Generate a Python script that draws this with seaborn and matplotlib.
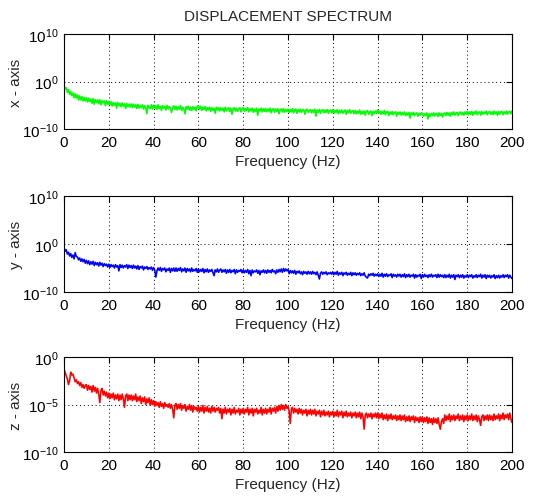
import numpy as np
import pandas as pd
import matplotlib
matplotlib.use("Agg")
import matplotlib.pyplot as plt
from matplotlib.ticker import NullLocator, FixedLocator, FixedFormatter
import seaborn as sns

# ---------------- data: log10 of displacement amplitude, 0.5 Hz steps (0 .. 200 Hz) ----------------
freq_hz = np.arange(0, 401) * 0.5

x_log = [
    -0.8, -1.6, -1.3, -2.3, -1.7, -2.7, -2.1, -3.0, -2.4, -3.4, -2.6, -3.5, -2.8, -3.9, -3.0, -3.9, -3.2, -4.1, -3.4, -4.1,
    -3.4, -4.3, -3.5, -4.2, -3.7, -4.6, -3.6, -4.8, -3.8, -4.4, -3.9, -4.7, -3.8, -4.9, -4.0, -4.5, -4.1, -5.1, -4.0, -4.8,
    -4.2, -4.9, -4.3, -5.2, -4.4, -5.0, -4.5, -5.6, -4.4, -5.1, -4.6, -5.3, -4.5, -5.2, -4.7, -5.7, -4.6, -5.3, -4.8, -5.4,
    -4.7, -5.5, -4.8, -5.4, -4.9, -5.7, -4.8, -5.6, -5.0, -5.5, -4.9, -5.8, -5.1, -5.6, -6.8, -5.0, -5.5, -5.7, -4.9, -5.8,
    -5.0, -5.6, -5.1, -5.9, -4.9, -5.7, -5.2, -6.1, -5.1, -5.6, -5.2, -6.0, -5.0, -5.8, -5.3, -5.5, -6.5, -5.6, -5.1, -5.9,
    -5.2, -6.0, -5.3, -5.8, -5.1, -6.1, -5.4, -5.9, -6.8, -5.3, -5.8, -5.2, -6.0, -5.4, -6.1, -5.3, -5.9, -5.4, -6.2, -5.2,
    -5.1, -5.8, -5.2, -6.1, -5.4, -5.9, -5.3, -6.2, -5.5, -6.0, -5.4, -6.3, -5.5, -6.1, -5.6, -6.7, -5.4, -6.0, -5.5, -6.2,
    -5.5, -6.1, -5.6, -6.4, -5.4, -6.2, -5.7, -5.5, -6.3, -5.6, -6.9, -5.7, -5.5, -6.2, -5.6, -6.3, -5.8, -5.5, -6.4, -5.7,
    -5.5, -6.3, -5.7, -6.1, -5.5, -6.4, -5.7, -6.2, -5.6, -6.5, -5.8, -6.3, -5.6, -7.1, -5.8, -6.2, -5.6, -6.4, -5.7, -6.3,
    -5.7, -6.4, -5.8, -6.3, -5.6, -6.6, -5.9, -5.7, -6.5, -5.8, -6.3, -5.7, -6.8, -5.9, -5.8, -6.4, -5.7, -6.5, -5.9, -6.3,
    -5.8, -6.5, -5.9, -6.4, -5.7, -6.6, -6.0, -5.8, -6.7, -5.9, -6.4, -5.8, -6.5, -6.0, -5.9, -6.9, -6.0, -5.8, -6.5, -6.1,
    -5.9, -6.6, -6.0, -6.5, -5.8, -7.3, -6.0, -6.5, -5.9, -6.7, -6.1, -5.9, -6.6, -6.0, -6.5, -5.9, -6.7, -6.1, -6.0, -6.6,
    -5.9, -6.7, -6.1, -6.5, -5.9, -6.8, -6.1, -6.6, -6.0, -6.7, -6.2, -6.0, -6.9, -6.1, -6.6, -5.9, -6.7, -6.2, -6.1, -6.8,
    -6.1, -6.8, -6.2, -6.7, -6.0, -6.9, -6.3, -6.8, -6.2, -7.1, -6.3, -6.1, -6.9, -6.4, -6.2, -7.2, -6.3, -6.8, -6.2, -6.7,
    -6.0, -6.7, -6.2, -6.9, -6.3, -6.8, -6.1, -7.0, -6.4, -6.3, -7.2, -6.4, -6.9, -6.3, -7.0, -6.5, -6.4, -7.3, -6.5, -6.9,
    -6.4, -7.1, -6.5, -7.0, -6.4, -7.2, -6.6, -7.1, -6.5, -7.7, -6.6, -7.0, -6.5, -7.2, -6.7, -6.6, -7.3, -6.7, -7.1, -6.6,
    -6.7, -7.3, -6.8, -7.2, -6.6, -7.9, -6.8, -7.4, -6.7, -7.2, -6.6, -7.3, -6.8, -6.7, -7.4, -6.6, -7.2, -6.7, -7.5, -6.8,
    -6.6, -7.2, -6.5, -7.1, -6.6, -7.3, -6.5, -7.0, -6.4, -7.1, -6.6, -6.5, -7.2, -6.6, -6.4, -7.0, -6.5, -7.1, -6.4, -6.9,
    -6.3, -7.0, -6.4, -6.9, -6.3, -7.1, -6.4, -6.8, -6.2, -7.0, -6.5, -6.4, -7.1, -6.3, -6.9, -6.4, -6.8, -6.2, -7.0, -6.5,
    -6.3, -6.9, -6.4, -7.0, -6.2, -6.8, -6.4, -7.1, -6.3, -6.9, -6.4, -6.3, -7.0, -6.4, -6.8, -6.2, -6.9, -6.4, -6.3, -6.8,
    -6.2,
]

y_log = [
    -0.7, -1.5, -1.2, -2.1, -1.7, -2.5, -2.0, -2.8, -2.3, -3.1, -1.8, -2.6, -2.7, -3.3, -2.9, -3.6, -3.1, -3.7, -3.2, -4.0,
    -3.4, -4.1, -3.5, -4.3, -3.7, -4.2, -3.6, -4.5, -3.8, -4.3, -3.9, -4.6, -3.8, -4.4, -4.0, -4.7, -4.1, -4.5, -4.2, -4.8,
    -4.2, -4.9, -4.3, -4.7, -4.4, -5.0, -4.3, -4.8, -4.5, -5.6, -4.3, -4.9, -4.4, -5.0, -4.5, -4.8, -4.3, -5.1, -4.4, -4.9,
    -4.5, -5.1, -4.4, -5.0, -4.6, -5.2, -4.5, -5.3, -4.7, -5.0, -4.6, -5.4, -4.8, -5.1, -4.7, -5.3, -4.9, -5.2, -4.8, -5.5,
    -4.9, -5.4, -6.9, -5.6, -5.0, -5.5, -4.9, -5.7, -5.1, -5.4, -5.0, -5.8, -5.2, -5.5, -5.0, -5.9, -5.1, -5.6, -5.0, -5.7,
    -5.0, -5.7, -5.1, -5.5, -4.9, -5.8, -5.2, -5.6, -5.0, -5.9, -5.1, -5.6, -5.2, -5.8, -5.0, -5.7, -5.3, -5.6, -5.1, -5.9,
    -5.2, -5.8, -5.3, -5.7, -5.1, -6.0, -5.3, -5.8, -5.2, -5.9, -5.4, -5.7, -5.3, -6.0, -6.6, -5.4, -5.8, -5.2, -5.9, -5.4,
    -5.2, -5.9, -5.4, -5.8, -5.3, -6.1, -5.4, -5.9, -5.3, -6.0, -5.5, -5.8, -5.3, -6.2, -5.4, -5.9, -5.5, -5.7, -5.3, -6.0,
    -5.4, -6.0, -5.5, -5.9, -5.3, -6.2, -5.5, -6.6, -5.4, -6.0, -5.6, -5.8, -5.4, -6.1, -5.5, -6.4, -5.6, -5.9, -5.4, -6.0,
    -5.5, -6.1, -5.4, -5.9, -5.5, -6.0, -5.3, -5.8, -5.6, -6.2, -5.4, -5.9, -5.3, -5.8, -5.2, -5.9, -5.1, -5.7, -5.2, -5.6,
    -5.3, -6.2, -5.5, -6.0, -5.6, -6.1, -5.5, -6.3, -5.7, -6.0, -5.6, -6.2, -5.8, -6.4, -5.7, -6.1, -5.8, -6.3, -5.7, -6.2,
    -5.8, -6.3, -5.7, -6.2, -5.9, -6.4, -5.8, -6.5, -7.3, -6.1, -5.8, -6.3, -5.9, -6.2, -5.8, -6.4, -6.0, -6.2, -5.9, -6.3,
    -5.8, -6.4, -5.9, -6.3, -5.7, -6.5, -6.0, -6.3, -5.9, -6.6, -6.0, -6.3, -5.9, -6.5, -6.1, -6.4, -5.9, -6.6, -6.0, -6.4,
    -6.0, -6.5, -6.1, -6.4, -6.0, -6.6, -6.2, -6.5, -6.0, -6.7, -6.9, -7.1, -6.3, -6.6, -6.2, -6.5, -6.1, -6.7, -6.3, -6.6,
    -6.2, -6.8, -6.3, -6.7, -6.1, -6.9, -6.3, -6.7, -6.2, -6.8, -6.4, -6.6, -6.2, -7.0, -6.3, -6.7, -6.4, -6.9, -6.3, -6.7,
    -6.3, -6.9, -6.4, -6.8, -6.2, -7.0, -6.4, -6.8, -6.3, -6.9, -6.5, -6.7, -6.3, -7.1, -6.4, -6.9, -6.5, -6.7, -6.3, -7.2,
    -6.4, -6.9, -6.3, -6.8, -6.5, -7.0, -6.4, -6.8, -6.3, -6.9, -6.5, -6.7, -6.4, -7.0, -6.3, -6.9, -6.4, -6.8, -6.5, -7.0,
    -6.4, -7.0, -6.5, -6.9, -6.3, -7.1, -6.5, -6.9, -6.4, -7.4, -6.5, -6.8, -6.4, -7.0, -6.5, -6.9, -6.4, -7.1, -6.6, -6.9,
    -6.4, -7.0, -6.5, -6.8, -6.4, -7.1, -6.6, -6.9, -6.4, -7.0, -6.5, -6.8, -6.3, -7.1, -6.5, -6.9, -6.4, -7.2, -6.5, -6.9,
    -6.5, -7.1, -6.6, -6.9, -6.4, -7.2, -6.6, -7.0, -6.5, -7.1, -6.6, -6.9, -6.4, -7.0, -6.5, -6.8, -6.4, -7.1, -6.5, -6.9,
    -7.2,
]

z_log = [
    -1.3, -1.6, -2.0, -2.3, -2.9, -2.5, -1.6, -1.9, -1.8, -2.2, -2.6, -2.4, -2.8, -2.6, -3.0, -2.7, -3.2, -2.9, -3.3, -3.0,
    -2.9, -3.5, -3.0, -3.4, -3.1, -3.7, -3.0, -3.6, -3.2, -3.8, -3.3, -3.9, -4.8, -3.5, -3.3, -4.0, -3.6, -4.1, -3.7, -4.3,
    -3.8, -4.4, -3.9, -4.3, -3.8, -4.5, -4.0, -4.4, -3.9, -4.6, -4.0, -4.5, -3.9, -4.4, -5.3, -4.1, -3.9, -4.6, -4.0, -4.5,
    -4.0, -4.6, -4.1, -4.5, -3.9, -4.7, -4.2, -4.6, -4.1, -4.9, -4.3, -4.7, -4.2, -5.0, -4.4, -4.8, -4.3, -5.1, -4.5, -5.0,
    -4.6, -5.2, -4.7, -5.1, -4.8, -5.3, -4.7, -5.2, -4.9, -5.4, -4.8, -5.2, -5.0, -5.3, -4.9, -5.4, -5.0, -5.5, -6.4, -5.1,
    -4.9, -5.5, -5.0, -5.4, -4.9, -5.6, -5.1, -5.4, -5.0, -5.7, -5.2, -5.5, -5.0, -5.6, -5.1, -5.8, -5.2, -5.5, -5.3, -5.7,
    -5.2, -5.8, -5.3, -5.7, -5.1, -5.9, -5.3, -5.7, -5.2, -5.8, -5.4, -5.9, -5.2, -5.7, -5.3, -5.8, -5.4, -5.6, -5.3, -5.9,
    -5.4, -6.5, -5.5, -5.9, -5.3, -6.0, -5.5, -5.8, -5.4, -6.1, -5.5, -5.9, -5.3, -6.0, -5.6, -5.8, -5.4, -6.1, -5.5, -5.9,
    -5.4, -6.0, -5.5, -5.8, -5.3, -6.1, -5.5, -5.9, -5.4, -6.2, -5.5, -5.8, -5.4, -6.0, -5.6, -5.9, -5.3, -6.1, -5.5, -5.9,
    -5.4, -6.0, -5.5, -5.8, -5.3, -6.0, -5.4, -5.7, -5.3, -5.9, -5.2, -5.7, -5.1, -5.6, -5.0, -5.5, -5.1, -5.6, -5.0, -5.4,
    -5.2, -5.7, -7.0, -5.5, -5.3, -5.9, -5.4, -5.8, -5.5, -6.0, -5.4, -5.9, -5.5, -6.1, -5.6, -5.9, -5.5, -6.2, -5.6, -6.0,
    -5.5, -6.1, -5.6, -6.0, -5.5, -6.2, -5.7, -6.0, -5.6, -6.3, -5.7, -6.1, -5.6, -6.2, -5.8, -6.1, -5.7, -6.3, -5.8, -6.1,
    -5.7, -6.3, -5.8, -6.2, -5.6, -6.3, -5.8, -6.1, -5.7, -6.4, -5.8, -6.2, -5.7, -6.3, -5.9, -6.2, -5.8, -6.4, -5.9, -6.2,
    -5.8, -6.4, -5.9, -6.3, -5.8, -6.5, -5.9, -6.3, -7.6, -6.1, -5.9, -6.4, -6.0, -6.3, -5.9, -6.5, -6.0, -6.3, -5.9, -6.4,
    -5.9, -6.5, -6.0, -6.4, -5.9, -6.6, -6.1, -6.5, -6.0, -6.7, -6.1, -6.5, -6.0, -6.6, -6.2, -6.5, -6.1, -6.7, -6.2, -6.6,
    -6.1, -6.7, -6.2, -6.6, -6.1, -6.8, -6.3, -6.7, -6.2, -6.8, -6.3, -6.6, -6.2, -6.9, -6.3, -6.7, -6.4, -6.9, -6.3, -6.8,
    -6.3, -6.9, -6.4, -6.8, -6.3, -7.0, -6.4, -6.9, -6.5, -7.1, -6.4, -6.9, -6.5, -7.0, -6.4, -7.1, -7.6, -6.8, -6.5, -7.0,
    -6.1, -6.7, -6.2, -6.6, -6.0, -6.8, -6.2, -6.6, -6.1, -6.7, -6.2, -6.5, -6.0, -6.7, -6.2, -6.6, -6.1, -6.8, -6.2, -6.6,
    -6.1, -6.7, -6.2, -6.6, -6.0, -6.7, -6.2, -6.6, -6.1, -6.8, -6.2, -6.6, -7.2, -6.3, -6.1, -6.7, -6.2, -6.6, -6.1, -6.7,
    -6.1, -6.6, -6.2, -6.7, -6.0, -6.6, -6.2, -6.5, -6.0, -6.7, -6.1, -6.5, -5.9, -6.6, -6.1, -6.4, -6.0, -6.6, -5.9, -6.5,
    -6.9,
]

title_text = "DISPLACEMENT SPECTRUM"
axis_labels = ["x - axis", "y - axis", "z - axis"]
xlabel_text = "Frequency (Hz)"
x_ticks = [0, 20, 40, 60, 80, 100, 120, 140, 160, 180, 200]
y_ticks_xy = [1e-10, 1e0, 1e10]
y_ticklabels_xy = [r"$\mathregular{10^{-10}}$", r"$\mathregular{10^{0}}$", r"$\mathregular{10^{10}}$"]
y_ticks_z = [1e-10, 1e-5, 1e0]
y_ticklabels_z = [r"$\mathregular{10^{-10}}$", r"$\mathregular{10^{-5}}$", r"$\mathregular{10^{0}}$"]
colors = ["#00ff00", "#0000ff", "#ff0000"]

# ---------------- figure ----------------
sns.set_style("white")
plt.rcParams["font.family"] = ["Liberation Sans", "DejaVu Sans"]

fig = plt.figure(figsize=(5.46, 5.02), dpi=100)
fig.patch.set_facecolor("white")

W, H = 546.0, 502.0
boxes = [(64, 35, 512, 130), (64, 197, 512, 293), (64, 358, 512, 453)]
series = [x_log, y_log, z_log]
ylims = [(1e-10, 1e10), (1e-10, 1e10), (1e-10, 1e0)]
yticks = [(y_ticks_xy, y_ticklabels_xy), (y_ticks_xy, y_ticklabels_xy), (y_ticks_z, y_ticklabels_z)]

for i, (l, t, r, b) in enumerate(boxes):
    ax = fig.add_axes([l / W, 1 - b / H, (r - l) / W, (b - t) / H])
    df = pd.DataFrame({"freq": freq_hz, "amp": np.power(10.0, np.array(series[i]))})
    sns.lineplot(data=df, x="freq", y="amp", ax=ax, color=colors[i],
                 linewidth=1.15, estimator=None, sort=False)
    ax.set_yscale("log")
    ax.set_xlim(0, 200)
    ax.set_ylim(*ylims[i])
    ax.xaxis.set_major_locator(FixedLocator(x_ticks))
    ax.set_xticklabels([str(v) for v in x_ticks])
    ax.yaxis.set_major_locator(FixedLocator(yticks[i][0]))
    ax.yaxis.set_major_formatter(FixedFormatter(yticks[i][1]))
    ax.yaxis.set_minor_locator(NullLocator())
    ax.xaxis.set_minor_locator(NullLocator())
    ax.grid(True, which="major", linestyle=(0, (1, 3)), color="black", linewidth=0.7)
    ax.tick_params(direction="in", top=True, right=True, length=4, width=0.8,
                   labelsize=11, colors="black", pad=4)
    for sp in ax.spines.values():
        sp.set_visible(True)
        sp.set_color("black")
        sp.set_linewidth(0.8)
    ax.set_xlabel(xlabel_text, fontsize=11, labelpad=4)
    ax.set_ylabel(axis_labels[i], fontsize=11)
    ax.yaxis.set_label_coords(-0.092, 0.5)
    if i == 0:
        ax.set_title(title_text, fontsize=11, pad=10)

fig.savefig("out.png", dpi=100, facecolor="white")
